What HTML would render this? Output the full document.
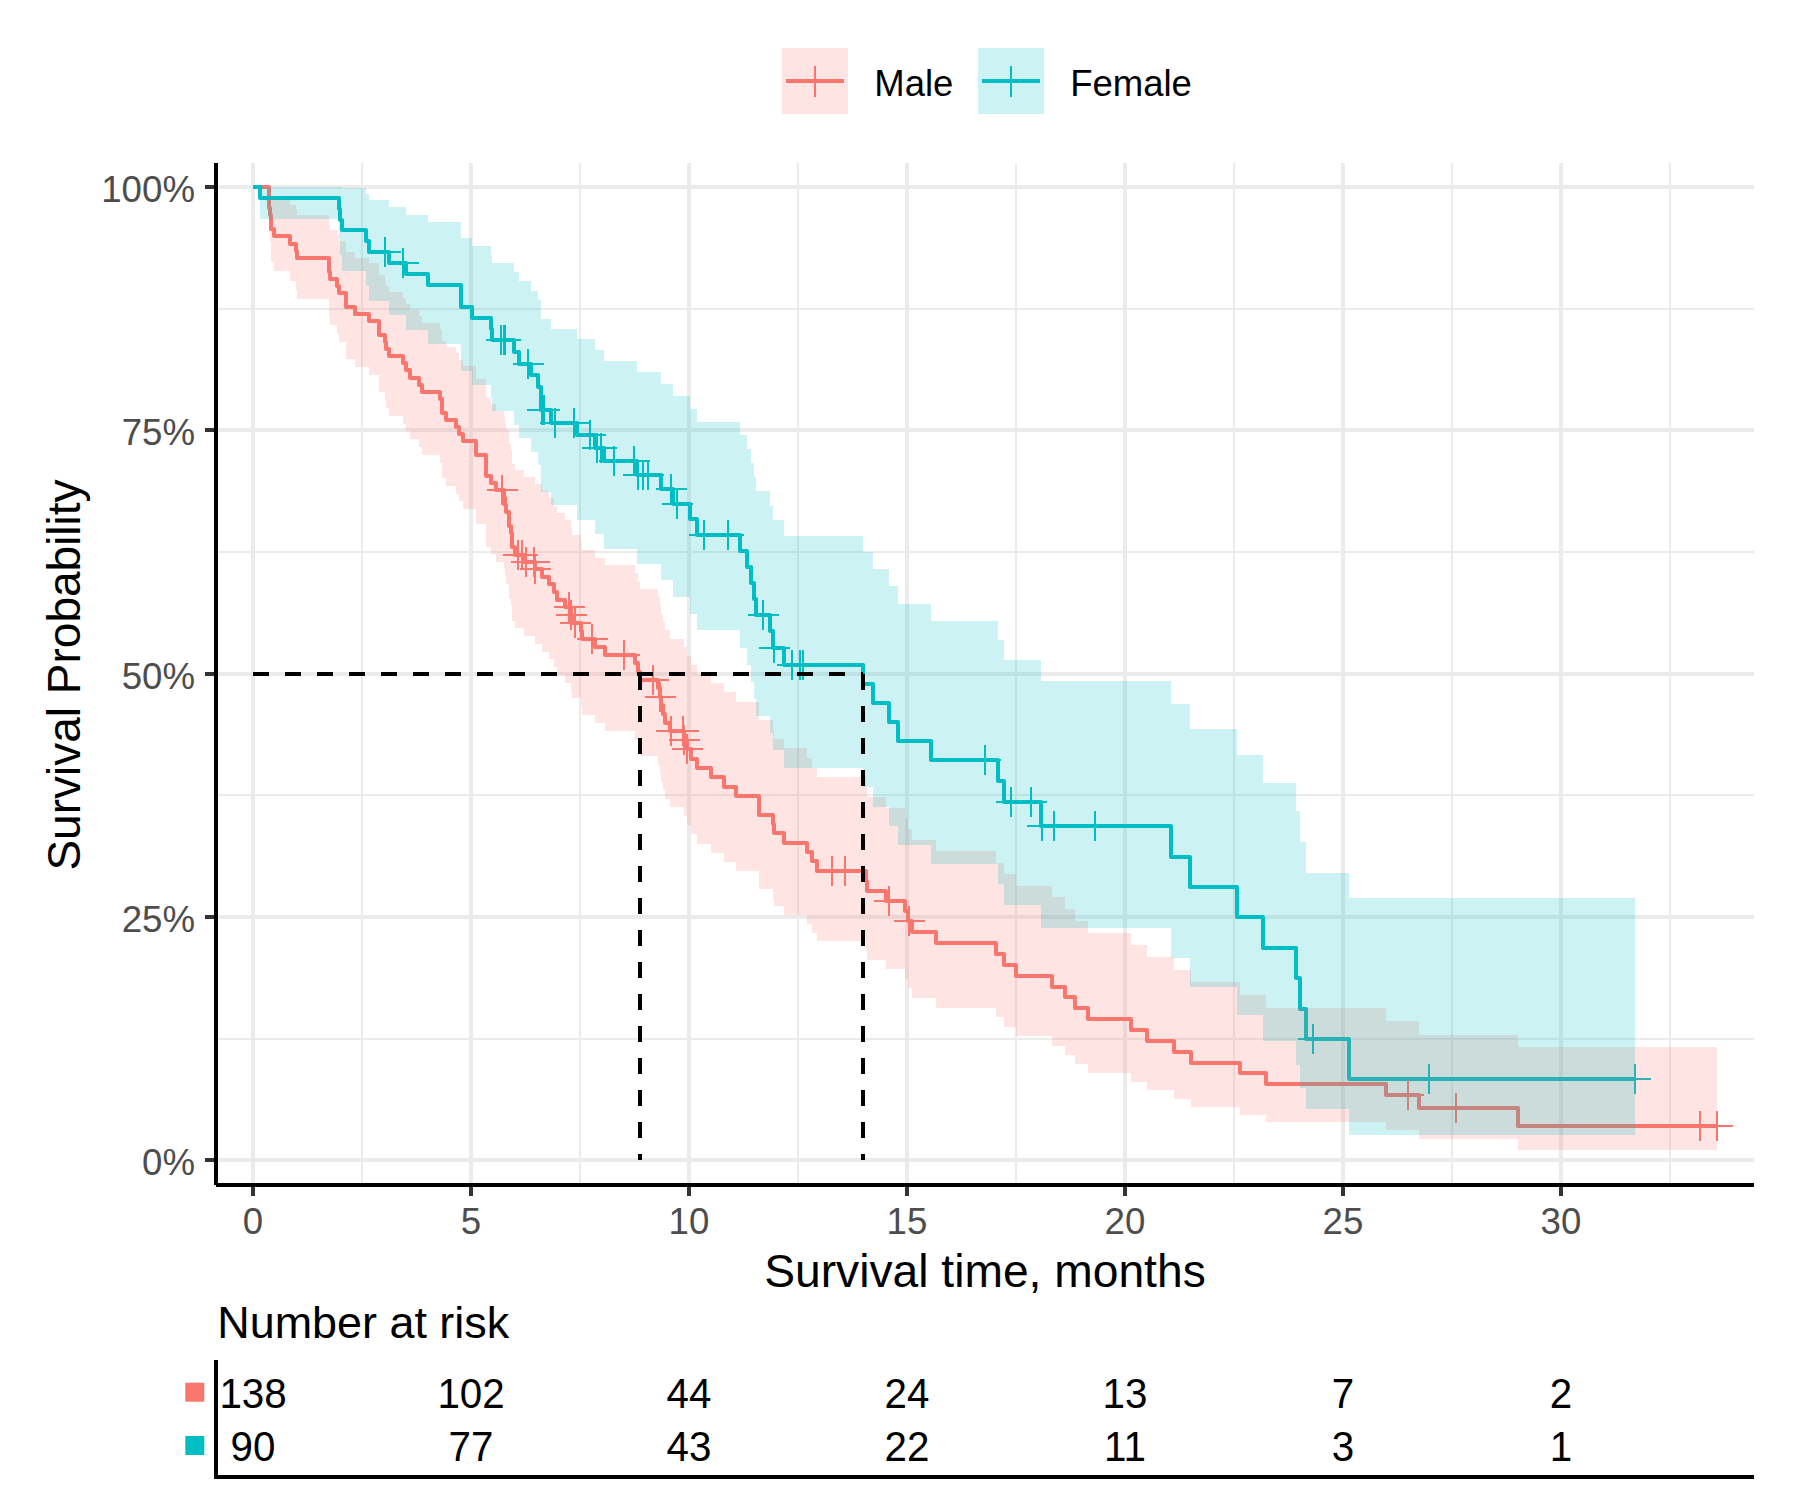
<!DOCTYPE html>
<html><head><meta charset="utf-8"><title>Survival plot</title>
<style>html,body{margin:0;padding:0;background:#fff}svg{display:block}</style></head>
<body>
<svg width="1800" height="1500" viewBox="0 0 1800 1500" font-family="Liberation Sans, sans-serif">
<rect width="1800" height="1500" fill="#fff"/>
<g stroke="#EBEBEB"><line x1="362" x2="362" y1="163.0" y2="1185.0" stroke-width="2"/><line x1="580" x2="580" y1="163.0" y2="1185.0" stroke-width="2"/><line x1="798" x2="798" y1="163.0" y2="1185.0" stroke-width="2"/><line x1="1016" x2="1016" y1="163.0" y2="1185.0" stroke-width="2"/><line x1="1234" x2="1234" y1="163.0" y2="1185.0" stroke-width="2"/><line x1="1452" x2="1452" y1="163.0" y2="1185.0" stroke-width="2"/><line x1="1670" x2="1670" y1="163.0" y2="1185.0" stroke-width="2"/><line x1="216.0" x2="1754.0" y1="1039" y2="1039" stroke-width="2"/><line x1="216.0" x2="1754.0" y1="795" y2="795" stroke-width="2"/><line x1="216.0" x2="1754.0" y1="552" y2="552" stroke-width="2"/><line x1="216.0" x2="1754.0" y1="309" y2="309" stroke-width="2"/><line x1="253" x2="253" y1="163.0" y2="1185.0" stroke-width="4"/><line x1="471" x2="471" y1="163.0" y2="1185.0" stroke-width="4"/><line x1="689" x2="689" y1="163.0" y2="1185.0" stroke-width="4"/><line x1="907" x2="907" y1="163.0" y2="1185.0" stroke-width="4"/><line x1="1125" x2="1125" y1="163.0" y2="1185.0" stroke-width="4"/><line x1="1343" x2="1343" y1="163.0" y2="1185.0" stroke-width="4"/><line x1="1561" x2="1561" y1="163.0" y2="1185.0" stroke-width="4"/><line x1="216.0" x2="1754.0" y1="1160" y2="1160" stroke-width="4"/><line x1="216.0" x2="1754.0" y1="917" y2="917" stroke-width="4"/><line x1="216.0" x2="1754.0" y1="674" y2="674" stroke-width="4"/><line x1="216.0" x2="1754.0" y1="430" y2="430" stroke-width="4"/><line x1="216.0" x2="1754.0" y1="187" y2="187" stroke-width="4"/></g>
<path d="M253,187 L269,187 L269,208 L270,208 L270,215 L271,215 L271,229 L274,229 L274,236 L290,236 L290,244 L296,244 L296,251 L297,251 L297,258 L329,258 L329,272 L330,272 L330,279 L337,279 L337,286 L339,286 L339,293 L346,293 L346,307 L355,307 L355,314 L369,314 L369,321 L379,321 L379,335 L385,335 L385,342 L386,342 L386,349 L389,349 L389,356 L403,356 L403,363 L406,363 L406,370 L410,370 L410,378 L419,378 L419,385 L422,385 L422,392 L440,392 L440,399 L442,399 L442,413 L446,413 L446,420 L456,420 L456,427 L459,427 L459,434 L463,434 L463,441 L476,441 L476,455 L486,455 L486,476 L491,476 L491,483 L496,483 L496,490 L504,490 L504,498 L505,498 L505,505 L506,505 L506,512 L509,512 L509,526 L511,526 L511,533 L512,533 L512,547 L515,547 L515,555 L524,555 L524,562 L535,562 L535,569 L542,569 L542,577 L549,577 L549,584 L554,584 L554,592 L557,592 L557,600 L565,600 L565,607 L571,607 L571,615 L572,615 L572,623 L581,623 L581,631 L582,631 L582,639 L595,639 L595,647 L605,647 L605,655 L635,655 L635,663 L638,663 L638,672 L640,672 L640,680 L658,680 L658,688 L660,688 L660,697 L661,697 L661,705 L663,705 L663,714 L665,714 L665,723 L670,723 L670,731 L684,731 L684,740 L687,740 L687,749 L691,749 L691,759 L697,759 L697,768 L711,768 L711,777 L724,777 L724,787 L736,787 L736,796 L759,796 L759,815 L773,815 L773,824 L774,824 L774,833 L784,833 L784,843 L807,843 L807,852 L812,852 L812,861 L817,861 L817,871 L866,871 L866,881 L867,881 L867,891 L886,891 L886,901 L905,901 L905,911 L908,911 L908,921 L912,921 L912,932 L936,932 L936,943 L996,943 L996,954 L1004,954 L1004,965 L1016,965 L1016,976 L1052,976 L1052,987 L1065,987 L1065,997 L1075,997 L1075,1008 L1088,1008 L1088,1019 L1131,1019 L1131,1030 L1147,1030 L1147,1041 L1174,1041 L1174,1052 L1191,1052 L1191,1063 L1240,1063 L1240,1073 L1266,1073 L1266,1084 L1386,1084 L1386,1095 L1419,1095 L1419,1108 L1518,1108 L1518,1126 L1717,1126" fill="none" stroke="#F8766D" stroke-width="4" stroke-linejoin="round"/>
<path d="M253,187 L260,187 L260,198 L339,198 L339,209 L340,209 L340,220 L342,220 L342,230 L366,230 L366,241 L369,241 L369,252 L389,252 L389,263 L406,263 L406,274 L428,274 L428,285 L461,285 L461,307 L472,307 L472,318 L491,318 L491,329 L492,329 L492,340 L514,340 L514,352 L519,352 L519,364 L531,364 L531,375 L538,375 L538,387 L541,387 L541,410 L551,410 L551,423 L577,423 L577,435 L595,435 L595,448 L604,448 L604,461 L637,461 L637,475 L661,475 L661,489 L673,489 L673,504 L690,504 L690,519 L697,519 L697,535 L740,535 L740,551 L747,551 L747,567 L751,567 L751,583 L754,583 L754,599 L756,599 L756,615 L770,615 L770,631 L773,631 L773,648 L784,648 L784,665 L863,665 L863,684 L873,684 L873,703 L889,703 L889,722 L898,722 L898,741 L931,741 L931,760 L998,760 L998,781 L1004,781 L1004,802 L1041,802 L1041,826 L1171,826 L1171,857 L1190,857 L1190,887 L1237,887 L1237,917 L1263,917 L1263,948 L1296,948 L1296,978 L1300,978 L1300,1009 L1306,1009 L1306,1039 L1349,1039 L1349,1079 L1635,1079" fill="none" stroke="#00BFC4" stroke-width="4" stroke-linejoin="round"/>
<path d="M487,490h31M502,475v30M503,555h31M518,540v30M507,555h31M522,540v30M511,562h31M526,547v30M519,562h31M534,547v30M520,569h31M535,554v30M554,607h31M569,592v30M556,615h31M571,600v30M560,623h31M575,608v30M560,623h31M575,608v30M577,639h31M592,624v30M609,655h31M624,640v30M638,680h31M653,665v30M645,697h31M660,682v30M656,731h31M671,716v30M668,731h31M683,716v30M669,740h31M684,725v30M672,749h31M687,734v30M817,871h31M832,856v30M830,871h31M845,856v30M874,901h31M889,886v30M894,921h31M909,906v30M1393,1095h31M1408,1080v30M1441,1108h31M1456,1093v30M1685,1126h31M1700,1111v30M1702,1126h31M1717,1111v30" stroke="#F8766D" stroke-width="2" fill="none"/>
<path d="M370,252h31M385,237v30M388,263h31M403,248v30M486,340h31M501,325v30M489,340h31M504,325v30M490,340h31M505,325v30M513,364h31M528,349v30M527,410h31M542,395v30M529,410h31M544,395v30M540,423h31M555,408v30M559,423h31M574,408v30M575,435h31M590,420v30M582,448h31M597,433v30M586,448h31M601,433v30M599,461h31M614,446v30M619,461h31M634,446v30M623,475h31M638,460v30M628,475h31M643,460v30M633,475h31M648,460v30M656,489h31M671,474v30M662,504h31M677,489v30M689,535h31M704,520v30M713,535h31M728,520v30M748,615h31M763,600v30M759,648h31M774,633v30M777,665h31M792,650v30M785,665h31M800,650v30M788,665h31M803,650v30M970,760h31M985,745v30M970,760h31M985,745v30M996,802h31M1011,787v30M1016,802h31M1031,787v30M1027,826h31M1042,811v30M1039,826h31M1054,811v30M1080,826h31M1095,811v30M1298,1039h31M1313,1024v30M1414,1079h31M1429,1064v30M1620,1079h31M1635,1064v30" stroke="#00BFC4" stroke-width="2" fill="none"/>
<path d="M253,187 L269,187 L269,187 L270,187 L270,188 L271,188 L271,196 L274,196 L274,200 L290,200 L290,205 L296,205 L296,210 L297,210 L297,215 L329,215 L329,225 L330,225 L330,230 L337,230 L337,235 L339,235 L339,241 L346,241 L346,252 L355,252 L355,258 L369,258 L369,263 L379,263 L379,275 L385,275 L385,281 L386,281 L386,286 L389,286 L389,292 L403,292 L403,298 L406,298 L406,304 L410,304 L410,310 L419,310 L419,316 L422,316 L422,323 L440,323 L440,329 L442,329 L442,341 L446,341 L446,347 L456,347 L456,353 L459,353 L459,360 L463,360 L463,366 L476,366 L476,379 L486,379 L486,398 L491,398 L491,404 L496,404 L496,411 L504,411 L504,417 L505,417 L505,424 L506,424 L506,430 L509,430 L509,444 L511,444 L511,450 L512,450 L512,464 L515,464 L515,470 L524,470 L524,477 L535,477 L535,484 L542,484 L542,491 L549,491 L549,498 L554,498 L554,506 L557,506 L557,513 L565,513 L565,520 L571,520 L571,527 L572,527 L572,535 L581,535 L581,542 L582,542 L582,550 L595,550 L595,558 L605,558 L605,565 L635,565 L635,573 L638,573 L638,581 L640,581 L640,589 L658,589 L658,597 L660,597 L660,605 L661,605 L661,614 L663,614 L663,622 L665,622 L665,630 L670,630 L670,639 L684,639 L684,647 L687,647 L687,656 L691,656 L691,665 L697,665 L697,674 L711,674 L711,683 L724,683 L724,692 L736,692 L736,702 L759,702 L759,720 L773,720 L773,730 L774,730 L774,739 L784,739 L784,748 L807,748 L807,758 L812,758 L812,768 L817,768 L817,777 L866,777 L866,787 L867,787 L867,797 L886,797 L886,808 L905,808 L905,818 L908,818 L908,829 L912,829 L912,840 L936,840 L936,851 L996,851 L996,863 L1004,863 L1004,874 L1016,874 L1016,886 L1052,886 L1052,897 L1065,897 L1065,909 L1075,909 L1075,921 L1088,921 L1088,933 L1131,933 L1131,945 L1147,945 L1147,957 L1174,957 L1174,970 L1191,970 L1191,982 L1240,982 L1240,995 L1266,995 L1266,1008 L1386,1008 L1386,1021 L1419,1021 L1419,1035 L1518,1035 L1518,1047 L1717,1047 L1717,1150 L1518,1150 L1518,1139 L1419,1139 L1419,1130 L1386,1130 L1386,1122 L1266,1122 L1266,1115 L1240,1115 L1240,1107 L1191,1107 L1191,1099 L1174,1099 L1174,1090 L1147,1090 L1147,1082 L1131,1082 L1131,1073 L1088,1073 L1088,1064 L1075,1064 L1075,1055 L1065,1055 L1065,1046 L1052,1046 L1052,1036 L1016,1036 L1016,1027 L1004,1027 L1004,1017 L996,1017 L996,1008 L936,1008 L936,998 L912,998 L912,988 L908,988 L908,979 L905,979 L905,969 L886,969 L886,960 L867,960 L867,951 L866,951 L866,941 L817,941 L817,933 L812,933 L812,924 L807,924 L807,915 L784,915 L784,906 L774,906 L774,898 L773,898 L773,889 L759,889 L759,871 L736,871 L736,862 L724,862 L724,853 L711,853 L711,844 L697,844 L697,834 L691,834 L691,825 L687,825 L687,816 L684,816 L684,807 L670,807 L670,799 L665,799 L665,790 L663,790 L663,782 L661,782 L661,773 L660,773 L660,765 L658,765 L658,756 L640,756 L640,748 L638,748 L638,740 L635,740 L635,731 L605,731 L605,723 L595,723 L595,715 L582,715 L582,707 L581,707 L581,698 L572,698 L572,690 L571,690 L571,683 L565,683 L565,675 L557,675 L557,667 L554,667 L554,659 L549,659 L549,652 L542,652 L542,644 L535,644 L535,636 L524,636 L524,628 L515,628 L515,621 L512,621 L512,606 L511,606 L511,599 L509,599 L509,584 L506,584 L506,577 L505,577 L505,569 L504,569 L504,562 L496,562 L496,554 L491,554 L491,547 L486,547 L486,524 L476,524 L476,509 L463,509 L463,501 L459,501 L459,494 L456,494 L456,486 L446,486 L446,478 L442,478 L442,463 L440,463 L440,455 L422,455 L422,447 L419,447 L419,439 L410,439 L410,431 L406,431 L406,424 L403,424 L403,416 L389,416 L389,408 L386,408 L386,400 L385,400 L385,392 L379,392 L379,375 L369,375 L369,367 L355,367 L355,359 L346,359 L346,342 L339,342 L339,334 L337,334 L337,325 L330,325 L330,316 L329,316 L329,299 L297,299 L297,290 L296,290 L296,281 L290,281 L290,271 L274,271 L274,262 L271,262 L271,242 L270,242 L270,232 L269,232 L269,187 L253,187Z" fill="#F8766D" fill-opacity="0.2"/>
<path d="M253,187 L260,187 L260,187 L339,187 L339,187 L340,187 L340,187 L342,187 L342,188 L366,188 L366,194 L369,194 L369,200 L389,200 L389,207 L406,207 L406,215 L428,215 L428,222 L461,222 L461,238 L472,238 L472,246 L491,246 L491,255 L492,255 L492,263 L514,263 L514,272 L519,272 L519,281 L531,281 L531,291 L538,291 L538,300 L541,300 L541,319 L551,319 L551,329 L577,329 L577,339 L595,339 L595,350 L604,350 L604,361 L637,361 L637,372 L661,372 L661,384 L673,384 L673,396 L690,396 L690,409 L697,409 L697,422 L740,422 L740,435 L747,435 L747,449 L751,449 L751,463 L754,463 L754,477 L756,477 L756,491 L770,491 L770,506 L773,506 L773,520 L784,520 L784,536 L863,536 L863,552 L873,552 L873,569 L889,569 L889,586 L898,586 L898,604 L931,604 L931,621 L998,621 L998,640 L1004,640 L1004,660 L1041,660 L1041,681 L1171,681 L1171,704 L1190,704 L1190,729 L1237,729 L1237,755 L1263,755 L1263,783 L1296,783 L1296,811 L1300,811 L1300,842 L1306,842 L1306,873 L1349,873 L1349,898 L1635,898 L1635,1135 L1349,1135 L1349,1109 L1306,1109 L1306,1088 L1300,1088 L1300,1065 L1296,1065 L1296,1041 L1263,1041 L1263,1015 L1237,1015 L1237,987 L1190,987 L1190,958 L1171,958 L1171,928 L1041,928 L1041,905 L1004,905 L1004,884 L998,884 L998,864 L931,864 L931,845 L898,845 L898,826 L889,826 L889,807 L873,807 L873,787 L863,787 L863,768 L784,768 L784,750 L773,750 L773,733 L770,733 L770,716 L756,716 L756,699 L754,699 L754,682 L751,682 L751,665 L747,665 L747,648 L740,648 L740,630 L697,630 L697,614 L690,614 L690,597 L673,597 L673,580 L661,580 L661,564 L637,564 L637,549 L604,549 L604,534 L595,534 L595,520 L577,520 L577,505 L551,505 L551,492 L541,492 L541,465 L538,465 L538,452 L531,452 L531,438 L519,438 L519,425 L514,425 L514,411 L492,411 L492,398 L491,398 L491,385 L472,385 L472,371 L461,371 L461,344 L428,344 L428,330 L406,330 L406,315 L389,315 L389,301 L369,301 L369,286 L366,286 L366,271 L342,271 L342,255 L340,255 L340,238 L339,238 L339,219 L260,219 L260,187 L253,187Z" fill="#00BFC4" fill-opacity="0.2"/>
<g stroke="#000" stroke-width="4" fill="none" stroke-dasharray="16,16"><path d="M253,674H863"/><path d="M640,674V1160"/><path d="M863,674V1160"/></g>
<path d="M216.0,163.0V1185.0" stroke="#000" stroke-width="4"/>
<path d="M216.0,1185.0H1754.0" stroke="#000" stroke-width="4"/>
<path d="M253,1187.0V1196.0M471,1187.0V1196.0M689,1187.0V1196.0M907,1187.0V1196.0M1125,1187.0V1196.0M1343,1187.0V1196.0M1561,1187.0V1196.0M214.0,1160H205.0M214.0,917H205.0M214.0,674H205.0M214.0,430H205.0M214.0,187H205.0" stroke="#333" stroke-width="4" fill="none"/>
<g font-size="36.67" fill="#4D4D4D">
<text x="195" y="1174.5" text-anchor="end">0%</text>
<text x="195" y="931.5" text-anchor="end">25%</text>
<text x="195" y="688.5" text-anchor="end">50%</text>
<text x="195" y="444.5" text-anchor="end">75%</text>
<text x="195" y="201.5" text-anchor="end">100%</text>
<text x="253" y="1233.5" text-anchor="middle">0</text>
<text x="471" y="1233.5" text-anchor="middle">5</text>
<text x="689" y="1233.5" text-anchor="middle">10</text>
<text x="907" y="1233.5" text-anchor="middle">15</text>
<text x="1125" y="1233.5" text-anchor="middle">20</text>
<text x="1343" y="1233.5" text-anchor="middle">25</text>
<text x="1561" y="1233.5" text-anchor="middle">30</text>
</g>
<text x="985" y="1287.3" font-size="46.2" text-anchor="middle" fill="#000">Survival time, months</text>
<text transform="translate(79.5,675) rotate(-90)" font-size="46" text-anchor="middle" fill="#000">Survival Probability</text>
<rect x="782" y="48" width="66" height="66" fill="#F8766D" fill-opacity="0.2"/>
<path d="M786,81H844" stroke="#F8766D" stroke-width="4"/>
<path d="M815,66V97" stroke="#F8766D" stroke-width="2"/>
<text x="874.3" y="96" font-size="36.5" fill="#000">Male</text>
<rect x="978" y="48" width="66" height="66" fill="#00BFC4" fill-opacity="0.2"/>
<path d="M982,81H1040" stroke="#00BFC4" stroke-width="4"/>
<path d="M1011,66V97" stroke="#00BFC4" stroke-width="2"/>
<text x="1070.2" y="96" font-size="36.5" fill="#000">Female</text>
<text x="217.3" y="1338.3" font-size="44.9" fill="#000">Number at risk</text>
<rect x="185.3" y="1382.7" width="19" height="19" fill="#F8766D"/>
<rect x="185.3" y="1436" width="19" height="19" fill="#00BFC4"/>
<path d="M216.0,1360V1477H1754.0" stroke="#000" stroke-width="4" fill="none"/>
<g font-size="42" fill="#000" text-anchor="middle">
<text transform="translate(253,1407.6) scale(0.96,1)">138</text><text transform="translate(253,1460.5) scale(0.96,1)">90</text>
<text transform="translate(471,1407.6) scale(0.96,1)">102</text><text transform="translate(471,1460.5) scale(0.96,1)">77</text>
<text transform="translate(689,1407.6) scale(0.96,1)">44</text><text transform="translate(689,1460.5) scale(0.96,1)">43</text>
<text transform="translate(907,1407.6) scale(0.96,1)">24</text><text transform="translate(907,1460.5) scale(0.96,1)">22</text>
<text transform="translate(1125,1407.6) scale(0.96,1)">13</text><text transform="translate(1125,1460.5) scale(0.96,1)">11</text>
<text transform="translate(1343,1407.6) scale(0.96,1)">7</text><text transform="translate(1343,1460.5) scale(0.96,1)">3</text>
<text transform="translate(1561,1407.6) scale(0.96,1)">2</text><text transform="translate(1561,1460.5) scale(0.96,1)">1</text>
</g>
</svg>
</body></html>
